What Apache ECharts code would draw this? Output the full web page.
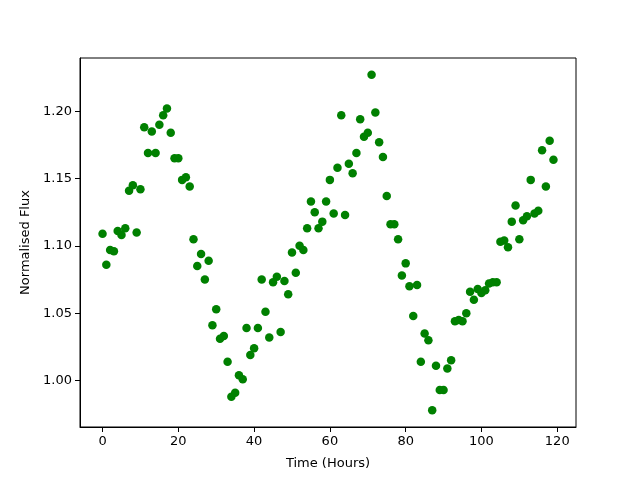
<!DOCTYPE html>
<html>
<head>
<meta charset="utf-8">
<script src="https://cdn.jsdelivr.net/npm/echarts@6/dist/echarts.min.js"></script>
<style>html,body{margin:0;padding:0;background:#fff;}#c{width:640px;height:480px;}</style>
</head>
<body>
<div id="c"></div>
<script>
const hours = [];
for (let i = 0; i < 120; i++) hours.push(i);
const flux = [
1.109,1.086,1.097,1.096,1.111,1.108,1.113,1.141,1.145,1.110,
1.142,1.188,1.169,1.185,1.169,1.190,1.197,1.202,1.184,1.165,
1.165,1.149,1.151,1.144,1.105,1.085,1.094,1.075,1.089,1.041,
1.053,1.031,1.033,1.014,0.988,0.991,1.004,1.001,1.039,1.019,
1.024,1.039,1.075,1.051,1.032,1.073,1.077,1.036,1.074,1.064,
1.095,1.080,1.100,1.097,1.113,1.133,1.125,1.113,1.118,1.133,
1.149,1.124,1.158,1.197,1.123,1.161,1.154,1.169,1.194,1.181,
1.184,1.227,1.199,1.177,1.166,1.137,1.116,1.116,1.105,1.078,
1.087,1.070,1.048,1.071,1.014,1.035,1.030,0.978,1.011,0.993,
0.993,1.009,1.015,1.044,1.045,1.044,1.050,1.066,1.060,1.068,
1.065,1.067,1.072,1.073,1.073,1.103,1.104,1.099,1.118,1.130,
1.105,1.119,1.122,1.149,1.124,1.126,1.171,1.144,1.178,1.164
];
const xTicks = [0, 20, 40, 60, 80, 100, 120];
const yTicks = [1.00, 1.05, 1.10, 1.15, 1.20];
const xLabel = 'Time (Hours)';
const yLabel = 'Normalised Flux';

const data = hours.map((h, i) => [h, flux[i]]);
const font = 'DejaVu Sans';
const chart = echarts.init(document.getElementById('c'), null, {renderer: 'canvas'});
chart.setOption({
  animation: false,
  backgroundColor: '#fff',
  grid: {left: 80, right: 64, top: 58, bottom: 53, show: true, borderColor: '#000', borderWidth: 1, backgroundColor: 'transparent'},
  xAxis: {
    type: 'value', min: -5.95, max: 124.95,
    name: xLabel, nameLocation: 'middle', nameGap: 30,
    nameTextStyle: {fontFamily: font, fontSize: 13, color: '#000'},
    axisLine: {show: true, onZero: false, lineStyle: {color: '#000', width: 1}},
    axisTick: {show: true, length: 5, inside: false, customValues: xTicks, lineStyle: {color: '#000'}},
    axisLabel: {customValues: xTicks, fontFamily: font, fontSize: 13, color: '#000', margin: 8, formatter: v => String(v)},
    splitLine: {show: false}
  },
  yAxis: {
    type: 'value', min: 0.9655, max: 1.2395,
    name: yLabel, nameLocation: 'middle', nameGap: 46, nameRotate: 90,
    nameTextStyle: {fontFamily: font, fontSize: 13, color: '#000'},
    axisLine: {show: true, onZero: false, lineStyle: {color: '#000', width: 1}},
    axisTick: {show: true, length: 5, inside: false, customValues: yTicks, lineStyle: {color: '#000'}},
    axisLabel: {customValues: yTicks, fontFamily: font, fontSize: 13, color: '#000', margin: 8, formatter: v => v.toFixed(2)},
    splitLine: {show: false}
  },
  series: [{
    type: 'scatter',
    data: data,
    symbol: 'circle',
    symbolSize: 8.5,
    itemStyle: {color: '#008000', opacity: 1},
    clip: false
  }]
});
</script>
</body>
</html>
